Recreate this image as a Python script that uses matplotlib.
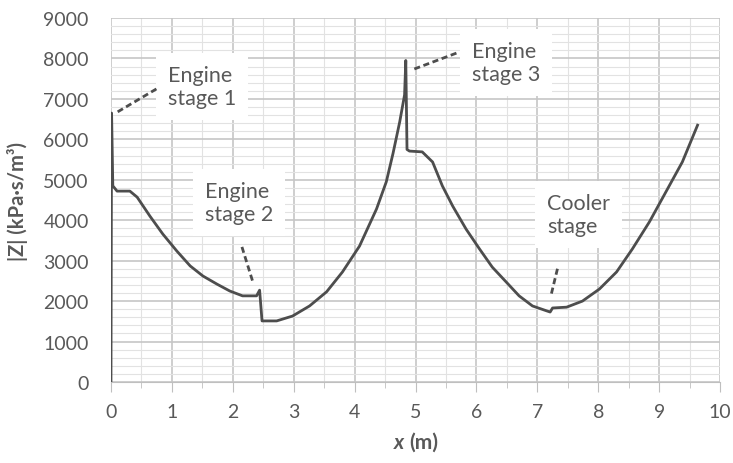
import matplotlib
matplotlib.use("Agg")
import matplotlib.pyplot as plt
from matplotlib.ticker import MultipleLocator

plt.rcParams['font.family'] = ['Lato', 'DejaVu Sans']

# |Z| along the duct
x_m = [0.0, 0.01, 0.03, 0.10, 0.31, 0.43, 0.64, 0.85, 1.08, 1.30, 1.51, 1.74,
       1.95, 2.16, 2.39, 2.44, 2.48, 2.72, 2.98, 3.26, 3.54, 3.80, 4.08, 4.36,
       4.52, 4.63, 4.74, 4.82, 4.84, 4.86, 4.90, 5.11, 5.28, 5.44, 5.61, 5.83,
       6.05, 6.26, 6.49, 6.70, 6.92, 7.15, 7.21, 7.25, 7.48, 7.74, 8.02, 8.30,
       8.56, 8.84, 9.11, 9.38, 9.63]
z_kpa = [0, 6650, 4850, 4720, 4720, 4570, 4100, 3660, 3240, 2870, 2620, 2420,
         2250, 2130, 2130, 2270, 1510, 1510, 1630, 1880, 2230, 2720, 3360, 4280,
         4950, 5650, 6430, 7100, 7950, 5750, 5710, 5690, 5440, 4850, 4350, 3780,
         3290, 2840, 2470, 2130, 1880, 1760, 1730, 1830, 1850, 2000, 2300, 2720,
         3290, 3960, 4700, 5440, 6350]

labels = ["Engine\nstage 1", "Engine\nstage 2", "Engine\nstage 3", "Cooler\nstage"]
label_xy = [(0.93, 7850), (1.54, 4980), (5.93, 8430), (7.16, 4680)]
leaders = [((0.11, 6680), (0.75, 7250)),
           ((2.15, 3340), (2.33, 2470)),
           ((4.98, 7740), (5.72, 8160)),
           ((7.33, 2800), (7.23, 2180))]

grey = '#595959'
fig = plt.figure(figsize=(7.33, 4.64), dpi=100)
ax = fig.add_axes([0.1514, 0.1746, 0.831, 0.7844])

ax.plot(x_m, z_kpa, color='#4d4d4d', lw=2.0, zorder=4, solid_joinstyle='round')

for (p0, p1) in leaders:
    ax.plot([p0[0], p1[0]], [p0[1], p1[1]], color='#4d4d4d', lw=2.0,
            ls=(0, (2.2, 1.3)), zorder=4)

for txt, (tx, ty) in zip(labels, label_xy):
    ax.text(tx, ty, txt, ha='left', va='top', fontsize=15.5, color=grey,
            linespacing=1.2, zorder=3,
            bbox=dict(boxstyle='square,pad=0.55', fc='white', ec='none'))

ax.set_xlim(0, 10)
ax.set_ylim(0, 9000)
ax.xaxis.set_major_locator(MultipleLocator(1))
ax.xaxis.set_minor_locator(MultipleLocator(0.5))
ax.yaxis.set_major_locator(MultipleLocator(1000))
ax.yaxis.set_minor_locator(MultipleLocator(200))
ax.grid(which='major', color='#c6c6c6', lw=1.2)
ax.grid(which='minor', color='#e2e2e2', lw=0.8)
ax.set_axisbelow(True)

for s in ['top', 'right', 'left']:
    ax.spines[s].set_visible(False)
ax.spines['bottom'].set_color('#bfbfbf')
ax.tick_params(axis='x', which='major', length=7, color='#bfbfbf', labelsize=14,
               labelcolor=grey, pad=8)
ax.tick_params(axis='x', which='minor', length=4, color='#bfbfbf')
ax.tick_params(axis='y', which='both', length=0, labelsize=14, labelcolor=grey, pad=16)

ax.text(0.481, -0.165, 'x', transform=ax.transAxes, ha='right', va='center',
        fontsize=15, fontweight='bold', fontstyle='italic', color=grey)
ax.text(0.489, -0.165, '(m)', transform=ax.transAxes, ha='left', va='center',
        fontsize=15, fontweight='bold', color=grey)
ax.set_ylabel('|Z| (kPa·s/m³)', fontsize=14.5, fontweight='bold', color=grey)
ax.yaxis.set_label_coords(-0.137, 0.5)

fig.savefig('out.png', dpi=100)
